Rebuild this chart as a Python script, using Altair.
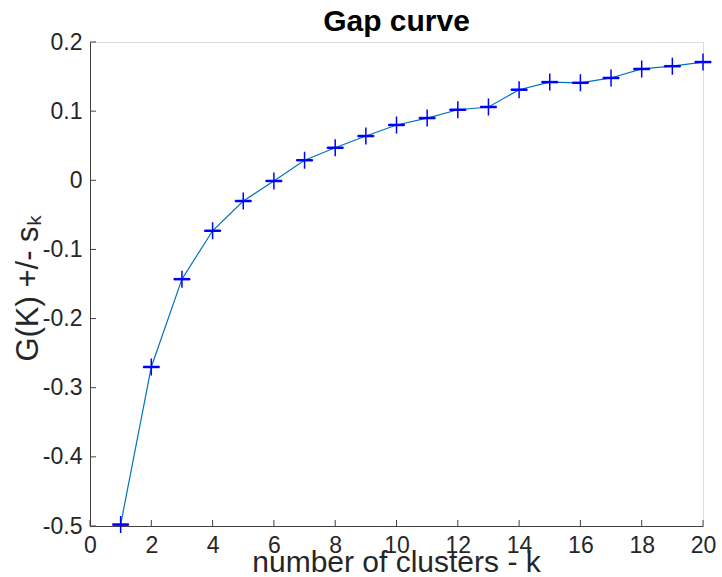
import altair as alt
import pandas as pd

k_values = list(range(1, 21))
gap_values = [-0.498, -0.270, -0.143, -0.073, -0.030, -0.001, 0.029, 0.047, 0.064, 0.080,
              0.090, 0.102, 0.106, 0.131, 0.142, 0.141, 0.148, 0.161, 0.165, 0.171]
x_ticks = [0, 2, 4, 6, 8, 10, 12, 14, 16, 18, 20]
y_ticks = [-0.5, -0.4, -0.3, -0.2, -0.1, 0, 0.1, 0.2]

df = pd.DataFrame({"k": k_values, "G": gap_values})
FONT = "Liberation Sans"
W, H = 613, 484

xs = alt.Scale(domain=[0, 20], nice=False, zero=False)
ys = alt.Scale(domain=[-0.5, 0.2], nice=False, zero=False)

x_axis = alt.Axis(values=x_ticks, tickSize=0, grid=False, labelFont=FONT, labelFontSize=23,
                  labelColor="#262626", labelPadding=8, labelFlush=False,
                  labelExpr="'' + datum.value",
                  domainColor="#404040", domainWidth=1,
                  title="number of clusters - k", titleFont=FONT, titleFontSize=30,
                  titleFontWeight="normal", titleColor="#262626",
                  titleX=306, titleY=45, titleBaseline="alphabetic", titleAlign="center")
y_axis = alt.Axis(values=y_ticks, tickSize=0, grid=False, labelFont=FONT, labelFontSize=23,
                  labelColor="#262626", labelPadding=8, labelFlush=False,
                  labelExpr="'' + datum.value",
                  domainColor="#404040", domainWidth=1,
                  title="G(K) +/- sₖ", titleFont=FONT, titleFontSize=31,
                  titleFontWeight="normal", titleColor="#262626",
                  titleX=-53, titleY=246, titleBaseline="alphabetic", titleAlign="center")

base = alt.Chart(df)
line = base.mark_line(color="#0072BD", strokeWidth=1.2).encode(
    x=alt.X("k:Q", scale=xs, axis=x_axis),
    y=alt.Y("G:Q", scale=ys, axis=y_axis),
)
pts = base.mark_point(shape="M-1,0L1,0M0,-1L0,1", size=289, filled=False,
                      color="#0000ff", strokeWidth=1.5, opacity=1).encode(
    x=alt.X("k:Q", scale=xs), y=alt.Y("G:Q", scale=ys))
caps = base.mark_tick(orient="horizontal", size=16, thickness=2.5, color="#0000ff",
                      opacity=1).encode(
    x=alt.X("k:Q", scale=xs), y=alt.Y("G:Q", scale=ys))

xt = alt.Chart(pd.DataFrame({"t": x_ticks})).mark_rule(color="#404040", strokeWidth=1).encode(
    x=alt.X("t:Q", scale=xs), y=alt.value(H), y2=alt.value(H - 6))
yt = alt.Chart(pd.DataFrame({"v": y_ticks})).mark_rule(color="#404040", strokeWidth=1).encode(
    y=alt.Y("v:Q", scale=ys), x=alt.value(0), x2=alt.value(6))

chart = alt.layer(line, xt, yt, pts, caps).properties(
    width=W, height=H,
    title=alt.TitleParams("Gap curve", font=FONT, fontSize=30, fontWeight="bold",
                          color="black", anchor="middle", offset=6, baseline="alphabetic",
                          frame="group", dy=36),
    autosize=alt.AutoSizeParams(type="none"),
    padding={"left": 90, "top": 42, "right": 19, "bottom": 51},
).configure_view(stroke=None).configure(background="white")

chart.save("out.html", embed_options={"renderer": "svg", "actions": False})
